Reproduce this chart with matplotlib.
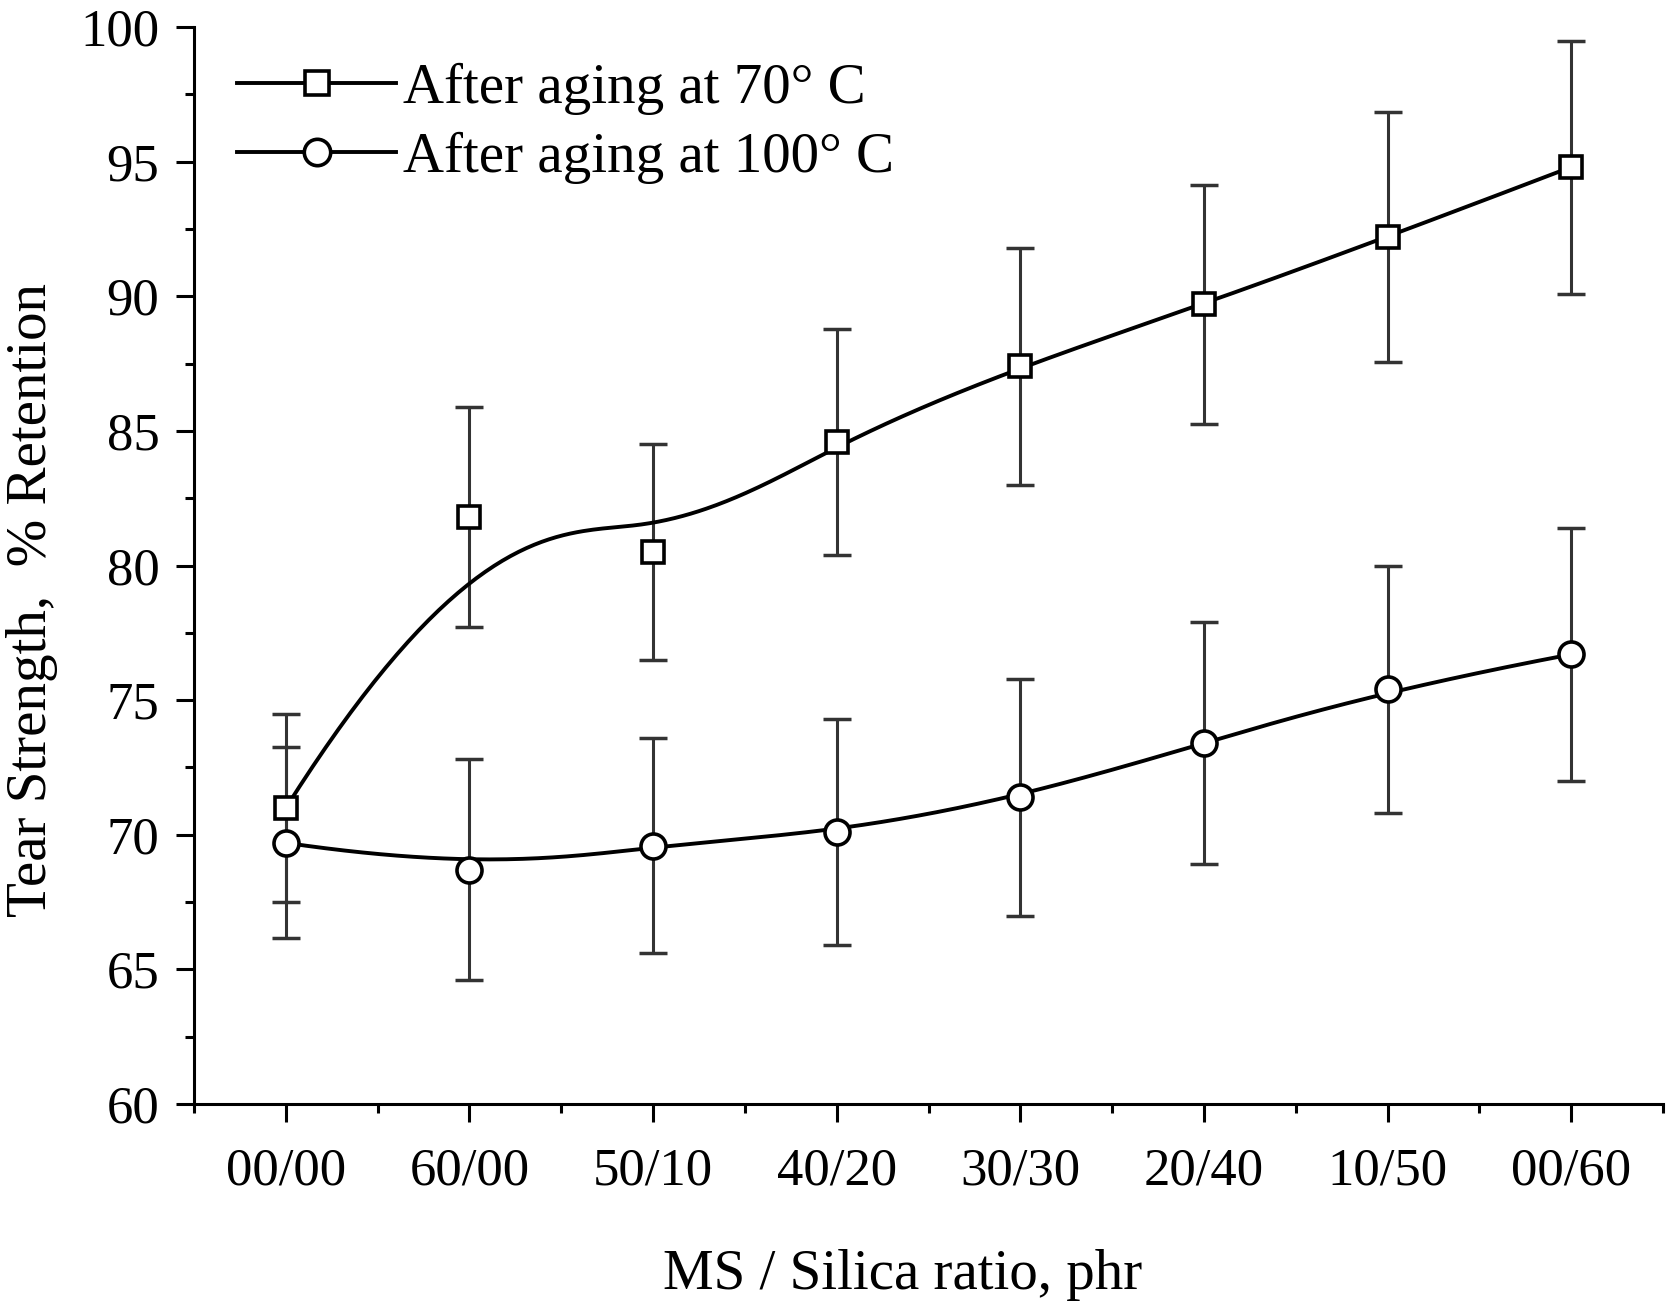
import numpy as np
import matplotlib
matplotlib.use("Agg")
import matplotlib.pyplot as plt
from matplotlib.ticker import MultipleLocator
from matplotlib.lines import Line2D

categories = ["00/00", "60/00", "50/10", "40/20", "30/30", "20/40", "10/50", "00/60"]
ret_70 = [71.0, 81.8, 80.5, 84.6, 87.4, 89.7, 92.2, 94.8]
err_70 = [3.5, 4.1, 4.0, 4.2, 4.4, 4.45, 4.65, 4.7]
ret_100 = [69.7, 68.7, 69.6, 70.1, 71.4, 73.4, 75.4, 76.7]
err_100 = [3.55, 4.1, 4.0, 4.2, 4.4, 4.5, 4.6, 4.7]
labels = ["After aging at 70\u00b0 C", "After aging at 100\u00b0 C"]

plt.rcParams['font.family'] = ['Liberation Serif', 'DejaVu Serif']


def bspline(px, py, k=3, n=400):
    px = np.asarray(px, float)
    py = np.asarray(py, float)
    m = len(px)
    inner = np.arange(1, m - k)
    knots = np.concatenate([np.zeros(k + 1), inner, np.full(k + 1, m - k)])
    t = np.linspace(0, m - k, n)
    t[-1] -= 1e-9

    def basis(i, p, tt):
        if p == 0:
            return np.where((knots[i] <= tt) & (tt < knots[i + 1]), 1.0, 0.0)
        out = np.zeros_like(tt)
        d1 = knots[i + p] - knots[i]
        d2 = knots[i + p + 1] - knots[i + 1]
        if d1 > 0:
            out += (tt - knots[i]) / d1 * basis(i, p - 1, tt)
        if d2 > 0:
            out += (knots[i + p + 1] - tt) / d2 * basis(i + 1, p - 1, tt)
        return out

    B = np.array([basis(i, k, t) for i in range(m)])
    return px @ B, py @ B


fig = plt.figure(figsize=(16.73, 13.14), dpi=100)
ax = fig.add_axes([0.116, 0.1598, 0.878, 0.8196])
x = np.arange(len(categories))

ecol = '#333333'
for vals, errs, mk, ms in [(ret_70, err_70, 's', 16), (ret_100, err_100, 'o', 18)]:
    ax.errorbar(x, vals, yerr=errs, fmt='none', ecolor=ecol, elinewidth=2.2,
                capsize=10, capthick=2.5, zorder=2)
    sx, sy = bspline(x, vals)
    ax.plot(sx, sy, color='black', lw=2.8, zorder=3)
    ax.plot(x, vals, linestyle='none', marker=mk, ms=ms, mfc='white', mec='black',
            mew=2.6, zorder=4)

handles = [Line2D([], [], color='black', lw=2.8, marker='s', ms=17, mfc='white', mec='black', mew=2.6),
           Line2D([], [], color='black', lw=2.8, marker='o', ms=19, mfc='white', mec='black', mew=2.6)]
ax.legend(handles, labels, loc='upper left', bbox_to_anchor=(0.006, 0.999), frameon=False,
          fontsize=41, handlelength=2.8, handletextpad=0.12, labelspacing=0.31, borderaxespad=0.2)

ax.set_xlim(-0.5, 7.5)
ax.set_ylim(60, 100)
ax.set_xticks(x)
ax.set_xticklabels(categories)
ax.xaxis.set_minor_locator(MultipleLocator(0.5))
ax.yaxis.set_major_locator(MultipleLocator(5))
ax.yaxis.set_minor_locator(MultipleLocator(2.5))
for s in ['top', 'right']:
    ax.spines[s].set_visible(False)
for s in ['left', 'bottom']:
    ax.spines[s].set_linewidth(2.2)
ax.tick_params(axis='both', which='major', direction='out', length=13, width=2.2,
               labelsize=38)
ax.tick_params(axis='both', which='minor', direction='out', length=6.5, width=2.2)
ax.tick_params(axis='x', which='major', pad=18)
ax.tick_params(axis='y', which='major', pad=12)

ax.set_xlabel("MS / Silica ratio, phr", fontsize=41)
ax.xaxis.set_label_coords(0.4826, -0.1588)
ax.xaxis.label.set_va('center')
ax.set_ylabel("Tear Strength,  % Retention", fontsize=41)
ax.yaxis.set_label_coords(-0.1100, 0.468)
ax.yaxis.label.set_va('center')
ax.yaxis.label.set_ha('center')

fig.savefig("out.png", dpi=100, facecolor='white')
